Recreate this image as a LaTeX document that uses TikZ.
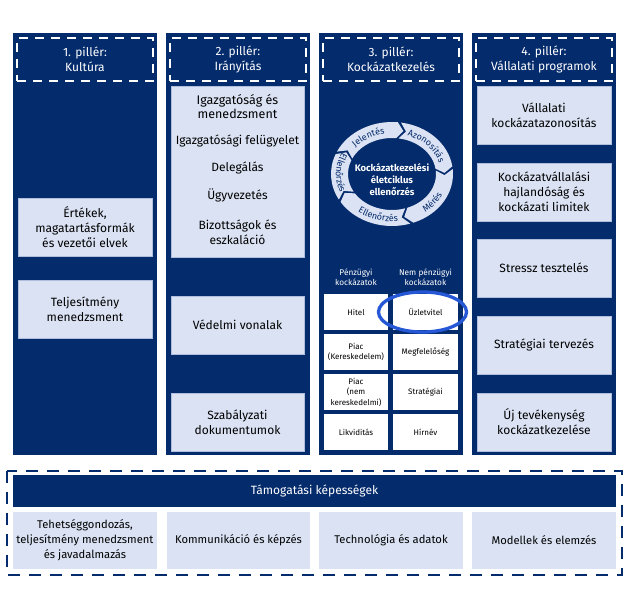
\documentclass[tikz,border=0pt]{standalone}
\usepackage{fontspec}
\setmainfont{Fira Sans}
\usetikzlibrary{shapes.geometric,decorations.text}
\definecolor{navy}{RGB}{4,43,108}
\definecolor{boxfill}{RGB}{218,226,243}
\definecolor{boxline}{RGB}{175,190,220}
\definecolor{hlblue}{RGB}{38,88,214}
\newcommand\ringlabelfont{\fontsize{9}{9}\selectfont}
\begin{document}
\begin{tikzpicture}[x=1pt,y=-1pt,
  col/.style={fill=navy, draw=none, minimum width=144pt, minimum height=422pt, inner sep=0pt},
  hdr/.style={draw=white, dash pattern=on 9pt off 7pt, line width=1.1pt, minimum width=136pt, minimum height=43pt, inner sep=0pt, text=white, align=center, font=\fontsize{12}{15}\selectfont},
  box/.style={fill=boxfill, draw=boxline, line width=0.5pt, minimum width=134pt, minimum height=58pt, inner sep=0pt, align=center, font=\fontsize{12}{15}\selectfont, text=black},
  txt/.style={align=center, inner sep=0pt, font=\fontsize{12}{15}\selectfont},
  cell/.style={fill=white, minimum height=36pt, inner sep=0pt, align=center, font=\fontsize{8}{10.5}\selectfont},
  th/.style={text=white, align=center, inner sep=0pt, font=\fontsize{8.3}{10.5}\selectfont},
  bbox/.style={fill=boxfill, minimum height=57pt, inner sep=0pt, align=center, font=\fontsize{11.2}{15}\selectfont},
  ringlbl/.style={decorate, decoration={text along path, text align=center, text color=navy}},
]
\useasboundingbox (0,0) rectangle (626,608);

% columns
\node[col] (col1) at (85,244) {};
\node[col] (col2) at (238,244) {};
\node[col] (col3) at (391,244) {};
\node[col] (col4) at (544,244) {};

% headers
\node[hdr] (h1) at (85,59.5) {1. pillér:\\Kultúra};
\node[hdr] (h2) at (238,59.5) {2. pillér:\\Irányítás};
\node[hdr] (h3) at (391,59.5) {3. pillér:\\Kockázatkezelés};
\node[hdr] (h4) at (544,59.5) {4. pillér:\\Vállalati programok};

% column 1
\node[box] (c1a) at (85,227.5) {Értékek,\\magatartásformák\\és vezetői elvek};
\node[box] (c1b) at (85,309) {Teljesítmény\\menedzsment};

% column 2
\node[box, minimum width=133pt, minimum height=171pt] (c2a) at (237.5,171.5) {};
\node[txt, font=\fontsize{12.5}{14}\selectfont] (g1) at (237.5,106.5) {Igazgatóság és\\menedzsment};
\node[txt] (g2) at (237.5,141) {Igazgatósági felügyelet};
\node[txt] (g3) at (237.5,168) {Delegálás};
\node[txt] (g4) at (237.5,195) {Ügyvezetés};
\node[txt] (g5) at (237.5,232) {Bizottságok és\\eszkaláció};
\node[box, minimum width=133pt] (c2b) at (237.5,325) {Védelmi vonalak};
\node[box, minimum width=133pt] (c2c) at (237.5,422) {Szabályzati\\dokumentumok};

% column 4
\node[box] (c4a) at (544,115) {Vállalati\\kockázatazonosítás};
\node[box] (c4b) at (544,192) {Kockázatvállalási\\hajlandóság és\\kockázati limitek};
\node[box] (c4c) at (544,268) {Stressz tesztelés};
\node[box] (c4d) at (544,345) {Stratégiai tervezés};
\node[box] (c4e) at (544,422) {Új tevékenység\\kockázatkezelése};

% column 3: cycle
\begin{scope}[shift={(392,174)}]
  \foreach \s/\e in {154.5/84.5, 81.5/8.5, 5.5/-69.5, -72.5/-147.5, -150.5/-202.5}{
    \pgfmathsetmacro\et{\e-7}
    \pgfmathsetmacro\st{\s-7}
    \fill[boxfill] (\s:61pt and 52pt) arc[start angle=\s, end angle=\e, x radius=61pt, y radius=52pt]
      -- (\et:52.5pt and 44pt) -- (\e:44pt and 36pt)
      arc[start angle=\e, end angle=\s, x radius=44pt, y radius=36pt]
      -- (\st:52.5pt and 44pt) -- cycle;
  }
  \path[ringlbl, decoration={text={|\ringlabelfont|Jelentés}}] (154.5:49pt and 40.5pt) arc[start angle=154.5, end angle=84.5, x radius=49pt, y radius=40.5pt];
  \path[ringlbl, decoration={text={|\ringlabelfont|Azonosítás}}] (81.5:49pt and 40.5pt) arc[start angle=81.5, end angle=4, x radius=49pt, y radius=40.5pt];
  \path[ringlbl, decoration={text={|\ringlabelfont|Mérés}}] (-69.5:56pt and 47.5pt) arc[start angle=-69.5, end angle=-8, x radius=56pt, y radius=47.5pt];
  \path[ringlbl, decoration={text={|\ringlabelfont|Ellenőrzés}}] (-140:56pt and 47.5pt) arc[start angle=-140, end angle=-72, x radius=56pt, y radius=47.5pt];
  \path[ringlbl, decoration={text={|\ringlabelfont|Ellenőrzés}}] (-214:56pt and 47.5pt) arc[start angle=-214, end angle=-150, x radius=56pt, y radius=47.5pt];
\end{scope}
\node[txt, text=white, font=\bfseries\fontsize{9.5}{12}\selectfont] (ctr) at (392,180) {Kockázatkezelési\\életciklus\\ellenőrzés};

% column 3: table
\node[th] (tha) at (356,277) {Pénzügyi\\kockázatok};
\node[th] (thb) at (425.5,277) {Nem pénzügyi\\kockázatok};
\node[cell, minimum width=64pt] (r1a) at (356,312) {Hitel};
\node[cell, minimum width=65pt] (r1b) at (425.5,312) {Üzletvitel};
\node[cell, minimum width=64pt] (r2a) at (356,352) {Piac\\(Kereskedelem)};
\node[cell, minimum width=65pt] (r2b) at (425.5,352) {Megfelelőség};
\node[cell, minimum width=64pt] (r3a) at (356,392) {Piac\\(nem\\kereskedelmi)};
\node[cell, minimum width=65pt] (r3b) at (425.5,392) {Stratégiai};
\node[cell, minimum width=64pt] (r4a) at (356,432) {Likviditás};
\node[cell, minimum width=65pt] (r4b) at (425.5,432) {Hírnév};
\node[ellipse, draw=hlblue, line width=3.3pt, minimum width=88pt, minimum height=40pt, inner sep=0pt] (hl) at (422.5,312) {};

% bottom section
\draw[navy, line width=2.4pt, dash pattern=on 12pt off 9pt] (7,471) rectangle (622,575);
\node[fill=navy, minimum width=603pt, minimum height=32pt, inner sep=0pt, text=white, font=\fontsize{12}{15}\selectfont] (sup) at (314.5,491) {Támogatási képességek};
\node[bbox, minimum width=144pt] (s1) at (85,540.5) {Tehetséggondozás,\\teljesítmény menedzsment\\és javadalmazás};
\node[bbox, minimum width=143pt] (s2) at (238.5,540.5) {Kommunikáció és képzés};
\node[bbox, minimum width=144pt] (s3) at (391,540.5) {Technológia és adatok};
\node[bbox, minimum width=144pt] (s4) at (544,540.5) {Modellek és elemzés};
\end{tikzpicture}
\end{document}
